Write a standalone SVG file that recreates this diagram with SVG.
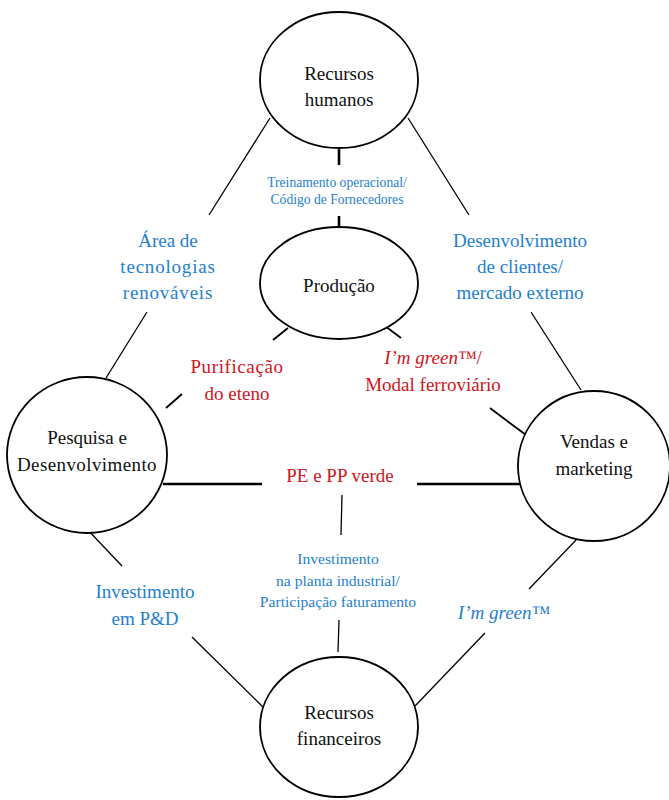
<svg xmlns="http://www.w3.org/2000/svg" width="669" height="800" viewBox="0 0 669 800">
<style>
.node{fill:#fff;stroke:#000;stroke-width:1.8}
.lbl{font-family:"Liberation Serif","Times New Roman",serif;text-anchor:middle}
.blk{fill:#111;font-size:19px}
.blue{fill:#1f80d0}
.red{fill:#d0141c}
.c{stroke:#000;stroke-width:1.3;fill:none}
.t{stroke:#000;stroke-width:2.6;fill:none}
</style>
<rect width="669" height="800" fill="#fff"/>
<g id="connectors">
<line class="c" x1="270" y1="118" x2="209" y2="215"/>
<line class="c" x1="147" y1="312" x2="106" y2="378"/>
<line class="c" x1="408" y1="118" x2="469" y2="215"/>
<line class="c" x1="531" y1="312" x2="581" y2="390"/>
<line class="t" x1="339" y1="149" x2="339" y2="165"/>
<line class="t" x1="339" y1="216" x2="339" y2="226"/>
<line class="c" x1="288" y1="328" x2="273" y2="340" style="stroke-width:1.8"/>
<line class="c" x1="182" y1="394" x2="166" y2="408" style="stroke-width:1.8"/>
<line class="c" x1="385" y1="326" x2="401" y2="338" style="stroke-width:1.8"/>
<line class="c" x1="490" y1="408" x2="526" y2="435" style="stroke-width:1.8"/>
<line class="t" x1="163" y1="484" x2="262" y2="484"/>
<line class="t" x1="417" y1="484" x2="521" y2="484"/>
<line class="c" x1="342" y1="495" x2="341" y2="535"/>
<line class="c" x1="339" y1="620" x2="338" y2="652"/>
<line class="c" x1="85" y1="527" x2="122" y2="566"/>
<line class="c" x1="192" y1="637" x2="263" y2="707"/>
<line class="c" x1="578" y1="538" x2="529" y2="589"/>
<line class="c" x1="485" y1="633" x2="415" y2="706"/>
</g>
<g id="rh">
<ellipse class="node" cx="339" cy="80" rx="79" ry="68"/>
<text class="lbl blk" x="339" y="80">Recursos</text>
<text class="lbl blk" x="339" y="106">humanos</text>
</g>
<g id="producao">
<ellipse class="node" cx="339" cy="283" rx="79" ry="56"/>
<text class="lbl blk" x="339" y="292">Produção</text>
</g>
<g id="pd">
<ellipse class="node" cx="87" cy="455" rx="80" ry="78"/>
<text class="lbl blk" x="87" y="444">Pesquisa e</text>
<text class="lbl blk" x="87" y="471" letter-spacing="0.4">Desenvolvimento</text>
</g>
<g id="vendas">
<ellipse class="node" cx="594" cy="466" rx="76" ry="75"/>
<text class="lbl blk" x="594" y="448">Vendas e</text>
<text class="lbl blk" x="594" y="475">marketing</text>
</g>
<g id="rf">
<ellipse class="node" cx="339" cy="727" rx="79" ry="70"/>
<text class="lbl blk" x="339" y="719">Recursos</text>
<text class="lbl blk" x="339" y="745">financeiros</text>
</g>
<g id="labels">
<text class="lbl blue" font-size="13.6" x="337" y="187">Treinamento operacional/</text>
<text class="lbl blue" font-size="13.6" x="337" y="204">Código de Fornecedores</text>
<text class="lbl blue" font-size="19" x="168" y="247">Área de</text>
<text class="lbl blue" font-size="19" x="168" y="273" letter-spacing="0.8">tecnologias</text>
<text class="lbl blue" font-size="19" x="168" y="299" letter-spacing="0.8">renováveis</text>
<text class="lbl blue" font-size="19" x="520" y="247">Desenvolvimento</text>
<text class="lbl blue" font-size="19" x="520" y="273">de clientes/</text>
<text class="lbl blue" font-size="19" x="520" y="299">mercado externo</text>
<text class="lbl red" font-size="19" x="237" y="373" letter-spacing="0.6">Purificação</text>
<text class="lbl red" font-size="19" x="237" y="400">do eteno</text>
<text class="lbl red" font-size="19" x="433" y="364"><tspan font-style="italic">I’m green™</tspan>/</text>
<text class="lbl red" font-size="19" x="433" y="391">Modal ferroviário</text>
<text class="lbl red" font-size="19" x="340" y="482">PE e PP verde</text>
<text class="lbl blue" font-size="19" x="145" y="598">Investimento</text>
<text class="lbl blue" font-size="19" x="145" y="625">em P&amp;D</text>
<text class="lbl blue" font-size="15.6" x="338" y="564">Investimento</text>
<text class="lbl blue" font-size="15.6" x="338" y="586">na planta industrial/</text>
<text class="lbl blue" font-size="15.6" x="338" y="607">Participação faturamento</text>
<text class="lbl blue" font-size="19" font-style="italic" x="504" y="619">I’m green™</text>
</g>
</svg>
